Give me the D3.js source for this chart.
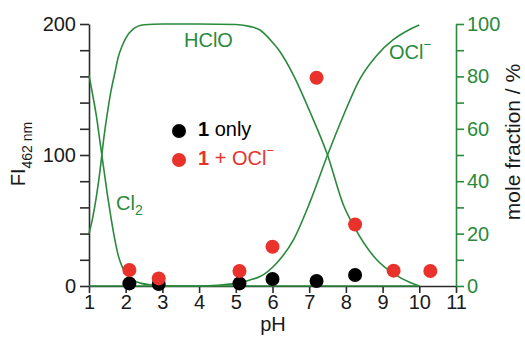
<!DOCTYPE html>
<html><head><meta charset="utf-8">
<script src="https://cdn.jsdelivr.net/npm/d3@7"></script>
<style>
body{margin:0;background:#fff;}
svg{display:block;font-family:"Liberation Sans",Arial,Helvetica,sans-serif;}
</style></head>
<body><svg id="c" width="525" height="347"></svg>
<script>
// ---- data ----
const xTicks = [1,2,3,4,5,6,7,8,9,10,11];
const yLeftTicks = [0,20,40,60,80,100,120,140,160,180,200];
const yLeftLabels = [0,100,200];
const yRightTicks = [0,10,20,30,40,50,60,70,80,90,100];
const yRightLabels = [0,20,40,60,80,100];

const pHOnly = [2.1, 2.9, 5.1, 6.0, 7.2, 8.25];
const fiOnly = [2, 1.5, 2, 5.3, 3.8, 8.4];
const pHOcl  = [2.1, 2.9, 5.1, 6.0, 7.2, 8.25, 9.3, 10.3];
const fiOcl  = [12.2, 5.8, 11.5, 30, 159, 47, 11.7, 11.5];

const pHCl2 = [1.0,1.1,1.2,1.3,1.35,1.4,1.5,1.6,1.7,1.8,1.9,2.0,2.2,2.4,2.7,3.0,3.5,10.0];
const fracCl2 = [80.5,73,65,55,50,45,35,26,18,11.5,7.5,4.8,2.2,1.1,0.4,0.1,0,0];

const pHHClO = [1.0,1.1,1.2,1.3,1.35,1.4,1.5,1.6,1.7,1.8,1.9,2.0,2.2,2.5,3.0,4.0,5.0,5.4,5.66,6.0,6.2,6.57,7.02,7.5,7.93,8.25,8.84,9.29,9.75,10.0];
const fracHClO = [20,26,34,44,50,56,66,74.5,81,87.5,91.5,94.5,98,99.7,100,100,99.8,99,97.7,93,89.5,80.5,66.5,50,31,22,10,4.8,1.3,0];

const pHOCl = [1.0,4.0,4.5,5.0,5.39,5.66,6.11,6.57,7.02,7.5,7.93,8.38,8.84,9.29,9.75,10.0];
const fracOCl = [0,0,0.3,1.0,2.3,3.6,8.7,17.6,32,50,65,79,88,94,98,99.6];

// ---- drawing ----
const green = "#2a8a3c", red = "#e8322b", dark = "#2b2b2b";
const svg = d3.select("#c");
const x = d3.scaleLinear().domain([1,11]).range([89,456]);
const yL = d3.scaleLinear().domain([0,200]).range([286,24]);
const yR = d3.scaleLinear().domain([0,100]).range([286,24]);
const FS = 20;

// axes
const gL = svg.append("g").attr("transform","translate(89,0)")
  .call(d3.axisLeft(yL).tickValues(yLeftTicks).tickFormat(d => yLeftLabels.includes(d) ? d : "").tickSize(9).tickPadding(4).tickSizeOuter(0));
const gB = svg.append("g").attr("transform","translate(0,286)")
  .call(d3.axisBottom(x).tickValues(xTicks).tickSize(7).tickPadding(2).tickSizeOuter(0));
const gR = svg.append("g").attr("transform","translate(456,0)")
  .call(d3.axisRight(yR).tickValues(yRightTicks).tickFormat(d => yRightLabels.includes(d) ? d : "").tickSize(8).tickPadding(3).tickSizeOuter(0));

[gL,gB].forEach(g=>{
  g.selectAll("path,line").attr("stroke",dark).attr("stroke-width",1.6);
  g.selectAll("text").attr("fill","#1a1a1a").style("font-size",FS+"px").style("font-family","Liberation Sans, Arial, sans-serif");
});
gR.selectAll("path,line").attr("stroke",green).attr("stroke-width",1.6);
gR.selectAll("text").attr("fill",green).style("font-size",FS+"px").style("font-family","Liberation Sans, Arial, sans-serif");

// curves
const line = (xs, ys) => d3.line().x((d,i)=>x(xs[i])).y((d,i)=>yR(ys[i])).curve(d3.curveMonotoneX)(xs);
[[pHCl2,fracCl2],[pHHClO,fracHClO],[pHOCl,fracOCl]].forEach(([xs,ys])=>{
  svg.append("path").attr("d",line(xs,ys)).attr("fill","none").attr("stroke",green).attr("stroke-width",1.6);
});

// points
svg.append("g").selectAll("circle").data(pHOnly).join("circle")
  .attr("cx",(d)=>x(d)).attr("cy",(d,i)=>yL(fiOnly[i])).attr("r",7).attr("fill","#000");
svg.append("g").selectAll("circle").data(pHOcl).join("circle")
  .attr("cx",(d)=>x(d)).attr("cy",(d,i)=>yL(fiOcl[i])).attr("r",7).attr("fill",red);

// species labels
svg.append("text").attr("x",184).attr("y",47).attr("fill",green).style("font-size",FS+"px").text("HClO");
const t1 = svg.append("text").attr("x",389).attr("y",59).attr("fill",green).style("font-size",FS+"px");
t1.append("tspan").text("OCl");
t1.append("tspan").attr("dy",-10).style("font-size","13px").text("−");
const t2 = svg.append("text").attr("x",116).attr("y",210).attr("fill",green).style("font-size",FS+"px");
t2.append("tspan").text("Cl");
t2.append("tspan").attr("dy",5).style("font-size","14px").text("2");

// legend
svg.append("circle").attr("cx",179).attr("cy",131).attr("r",7).attr("fill","#000");
svg.append("circle").attr("cx",179).attr("cy",160).attr("r",7).attr("fill",red);
const l1 = svg.append("text").attr("x",198).attr("y",136).attr("fill","#000").style("font-size",FS+"px");
l1.append("tspan").attr("font-weight","bold").text("1");
l1.append("tspan").text(" only");
const l2 = svg.append("text").attr("x",198).attr("y",165).attr("fill",red).style("font-size",FS+"px");
l2.append("tspan").attr("font-weight","bold").text("1");
l2.append("tspan").text(" + OCl");
l2.append("tspan").attr("dy",-10).style("font-size","13px").text("−");

// axis titles
svg.append("text").attr("x",273).attr("y",331).attr("text-anchor","middle").attr("fill","#1a1a1a").style("font-size",FS+"px").text("pH");
const yl = svg.append("text").attr("transform","translate(25,154) rotate(-90)").attr("text-anchor","middle").attr("fill","#1a1a1a").style("font-size",FS+"px");
yl.append("tspan").text("FI");
yl.append("tspan").attr("dy",7).style("font-size","14px").text("462 nm");
svg.append("text").attr("transform","translate(520,142) rotate(-90)").attr("text-anchor","middle").attr("fill","#1a1a1a").style("font-size","21px").text("mole fraction / %");
</script></body></html>
